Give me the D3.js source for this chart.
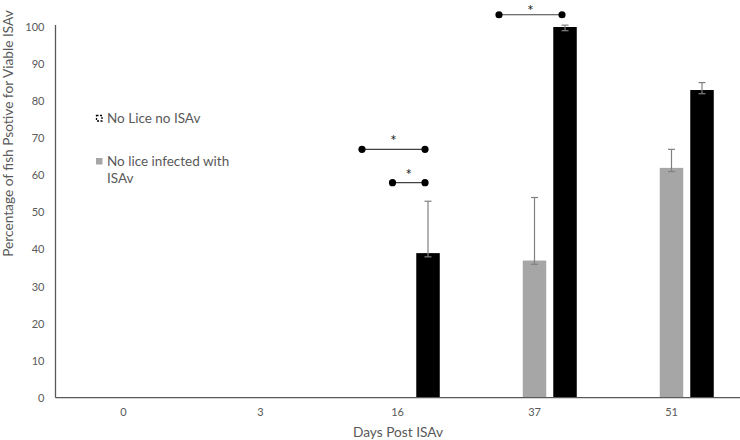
<!DOCTYPE html>
<html>
<head>
<meta charset="utf-8">
<script src="https://cdn.jsdelivr.net/npm/d3@7"></script>
<style>
  html, body { margin: 0; padding: 0; background: #fff; }
  svg { display: block; }
  text { font-family: Lato, "Open Sans", sans-serif; }
</style>
</head>
<body>
<svg id="chart" width="740" height="440"></svg>
<script>
// ---- data ----
const categories = ["0", "3", "16", "37", "51"];
const seriesNames = ["No Lice no ISAv", "No lice infected with ISAv", "Lice infected with ISAv"];
const noLiceNoISAv = [0, 0, 0, 0, 0];
const noLiceISAv = [0, 0, 0, 37, 62];
const liceISAv = [0, 0, 39, 100, 83];
const noLiceISAvErrHigh = [0, 0, 0, 54, 67];
const noLiceISAvErrLow = [0, 0, 0, 36, 61];
const liceISAvErrHigh = [0, 0, 53, 100.5, 85];
const liceISAvErrLow = [0, 0, 38, 99, 82];
const yTicks = [0, 10, 20, 30, 40, 50, 60, 70, 80, 90, 100];
// significance brackets: category, from series, to series, level
const brackets = [
  { cat: "16", from: 0, to: 2, level: 67 },
  { cat: "16", from: 1, to: 2, level: 58 },
  { cat: "37", from: 0, to: 2, level: 103.3 }
];

const series = [
  { name: seriesNames[0], values: noLiceNoISAv, fill: "#ffffff", stroke: "#000", hi: null, lo: null },
  { name: seriesNames[1], values: noLiceISAv, fill: "#a6a6a6", stroke: "none", hi: noLiceISAvErrHigh, lo: noLiceISAvErrLow },
  { name: seriesNames[2], values: liceISAv, fill: "#000000", stroke: "none", hi: liceISAvErrHigh, lo: liceISAvErrLow }
];

const svg = d3.select("#chart");
const x0 = d3.scaleBand().domain(categories).range([55, 740]).paddingInner(0.383).paddingOuter(0.1915);
const x1 = d3.scaleBand().domain([0, 1, 2]).range([0, x0.bandwidth()]).paddingInner(0.23);
const y = d3.scaleLinear().domain([0, 100]).range([397.7, 27]);

// y axis labels
const yAxis = d3.axisLeft(y).tickValues(yTicks).tickSize(0).tickPadding(11);
const gy = svg.append("g").attr("transform", "translate(55.5,0)").call(yAxis);
gy.select(".domain").remove();
gy.selectAll("text").attr("fill", "#595959").style("font-size", "11px").style("font-family", "Lato, sans-serif");

// x axis labels
const xAxis = d3.axisBottom(x0).tickSize(0).tickPadding(11);
const gx = svg.append("g").attr("transform", `translate(0,${y(0)})`).call(xAxis);
gx.select(".domain").remove();
gx.selectAll("text").attr("fill", "#595959").style("font-size", "11px").style("font-family", "Lato, sans-serif");

// bars
series.forEach((s, si) => {
  svg.append("g").selectAll("rect")
    .data(categories.map((c, i) => ({ c, v: s.values[i] })).filter(d => d.v > 0))
    .join("rect")
    .attr("x", d => x0(d.c) + x1(si))
    .attr("width", x1.bandwidth())
    .attr("y", d => y(d.v))
    .attr("height", d => y(0) - y(d.v))
    .attr("fill", s.fill)
    .attr("stroke", s.stroke);
});

// error bars
series.forEach((s, si) => {
  if (!s.hi) return;
  const data = categories.map((c, i) => ({ c, v: s.values[i], hi: s.hi[i], lo: s.lo[i] })).filter(d => d.v > 0);
  const g = svg.append("g").attr("stroke", "#808080").attr("stroke-width", 1.2).attr("fill", "none");
  data.forEach(d => {
    const cx = x0(d.c) + x1(si) + x1.bandwidth() / 2;
    g.append("line").attr("x1", cx).attr("x2", cx).attr("y1", y(d.hi)).attr("y2", y(d.lo));
    g.append("line").attr("x1", cx - 3.5).attr("x2", cx + 3.5).attr("y1", y(d.hi)).attr("y2", y(d.hi));
    g.append("line").attr("x1", cx - 3.5).attr("x2", cx + 3.5).attr("y1", y(d.lo)).attr("y2", y(d.lo));
  });
});

// axis lines
svg.append("line").attr("x1", 55.5).attr("x2", 55.5).attr("y1", 25).attr("y2", y(0))
  .attr("stroke", "#595959").attr("stroke-width", 1.3);
svg.append("line").attr("x1", 55.5).attr("x2", 740).attr("y1", y(0)).attr("y2", y(0))
  .attr("stroke", "#595959").attr("stroke-width", 1.3);

// significance brackets
const bg = svg.append("g");
brackets.forEach(b => {
  const xa = x0(b.cat) + x1(b.from) + x1.bandwidth() / 2 - 5;
  const xb = x0(b.cat) + x1(b.to) + x1.bandwidth() / 2 - 3;
  const yy = y(b.level);
  bg.append("line").attr("x1", xa).attr("x2", xb).attr("y1", yy).attr("y2", yy)
    .attr("stroke", "#404040").attr("stroke-width", 1.2);
  bg.append("circle").attr("cx", xa).attr("cy", yy).attr("r", 3.6).attr("fill", "#000");
  bg.append("circle").attr("cx", xb).attr("cy", yy).attr("r", 3.6).attr("fill", "#000");
  bg.append("text").attr("x", (xa + xb) / 2).attr("y", Math.max(yy - 3, 15.5))
    .attr("text-anchor", "middle").attr("fill", "#222").style("font-size", "15px").text("*");
});

// legend
const lg = svg.append("g");
lg.append("rect").attr("x", 96.5).attr("y", 115.5).attr("width", 5.5).attr("height", 5.5)
  .attr("fill", "#fff").attr("stroke", "#000").attr("stroke-width", 1.3).attr("stroke-dasharray", "2,1.5");
lg.append("text").attr("x", 107).attr("y", 122.5).attr("fill", "#595959").style("font-size", "13.5px").text(seriesNames[0]);
lg.append("rect").attr("x", 96).attr("y", 158).attr("width", 6.5).attr("height", 6.5).attr("fill", "#a6a6a6");
const t2 = lg.append("text").attr("x", 107).attr("y", 166).attr("fill", "#595959").style("font-size", "13.5px");
t2.append("tspan").attr("x", 107).text("No lice infected with");
t2.append("tspan").attr("x", 107).attr("dy", 17).text("ISAv");

// axis titles
svg.append("text").attr("x", 398).attr("y", 437).attr("text-anchor", "middle")
  .attr("fill", "#595959").style("font-size", "13.7px").text("Days Post ISAv");
svg.append("text").attr("transform", "translate(13,133.5) rotate(-90)").attr("text-anchor", "middle")
  .attr("fill", "#595959").style("font-size", "13.7px").text("Percentage of fish Psotive for Viable ISAv");
</script>
</body>
</html>
